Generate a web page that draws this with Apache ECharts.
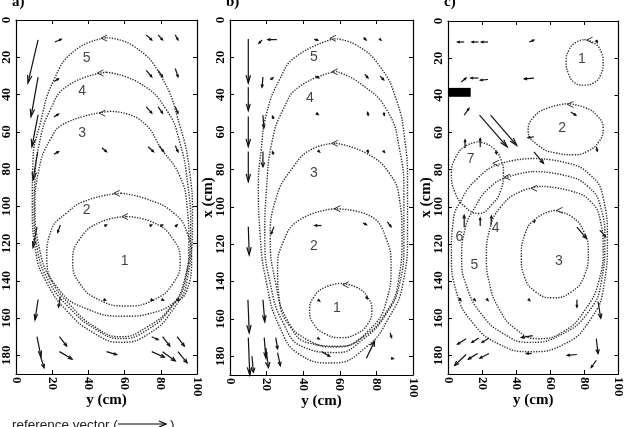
<!DOCTYPE html>
<html>
<head>
<meta charset="utf-8">
<title>flow fields a b c</title>
<script src="https://cdn.jsdelivr.net/npm/echarts/dist/echarts.min.js"></script>
<style>
  html, body { margin: 0; padding: 0; background: #fff; }
  #chart { width: 625px; height: 427px; }
</style>
</head>
<body>
<div id="chart"></div>
<script>
// all points are [y (cm), x (cm)] : y horizontal, x vertical (down)

// ---- panel a ----
const loopsA = [
  [[61,105.5],[75.9,108.7],[86.7,117.5],[90.7,129.5],[86.7,141.5],[75.9,150.3],[61,153.5],[46.1,150.3],[35.3,141.5],[31.3,129.5],[35.3,117.5],[46.1,108.7],[61,105.5]],
  [[58,93],[72,96],[87,103.5],[94.5,114],[97,128],[94.5,145],[87,152],[76,157],[60,159],[39,155],[24,145],[17,128],[19,114],[28,103.5],[40,96.5],[58,93]],
  [[52,49],[68.5,53.6],[81,70],[90.6,84],[94.5,100],[95.5,120],[93,140],[85.5,154],[72,165],[58,170],[44,165],[30,153],[19,139],[13,123],[10.5,100],[12.3,82],[19,64],[28,55],[52,49]],
  [[50,28],[68.5,34],[83,48],[90.6,66],[95,89],[96.5,110],[93.5,140],[86,154],[73,166],[58,171],[44,166],[29,154],[18,140],[12,124],[10,102],[10.5,85],[12.5,68],[19,48],[29,35],[50,28]],
  [[50,9.5],[65,14],[80,30],[90.6,57],[96,82],[97.5,105],[94.5,140],[87,155],[74,168],[58,173],[43,168],[28,156],[17,141],[11,125],[9,100],[9.4,75],[13,57],[21,32],[33,16],[50,9.5]]
];
const headsA = [[47,9.7],[45,28.4],[46,50],[54,93],[58.5,105.5]];
const labelsA = [[60,129.5,'1'],[39,102,'2'],[36.5,60.7,'3'],[36.5,38.4,'4'],[39,20.4,'5']];
// vectors: [y0, x0, y1, x1], head at the end
const vecsA = [
  [12.2,10.7,6.6,33.8],[12.2,30.7,8.3,51.9],[12.2,50.9,8.8,68],[12,70.7,9.4,85.8],
  [11.6,111,9.4,122],[12.2,150,10.5,161],[11.6,170,13.8,180.7],[13.2,179.6,15.5,186.6],
  [21.5,11.8,25,10.3],[72,8,75,10.7],[78.5,8,81,10.7],[88,8,89.5,10.7],
  [21,33,23.5,31.5],[72,27,75,30.5],[78.5,27,81,30.5],[88,26,89.5,30.5],
  [21,52,23.5,50.5],[72,46.6,75,50],[78.5,46.6,81,50],[88,46.6,89.5,50],
  [21,72,23.5,70.7],[47.5,68.6,50,70.7],[73,68,76,70.7],[79,67.5,81.6,70.7],[88,67.5,89.5,70.7],
  [24.5,110,23,114],[49,110.5,50,110],[74,110.5,75,110],[80,110.5,81,110],[88,111,89,110],
  [24.5,148.5,23.5,154],[48.5,150,49.5,150.5],[74.5,150,75.5,150.5],[80.5,150,81.5,150.5],[89,150,90,150.5],
  [24,170,28,175],[75,170,78.5,171.6],[81,170,85,175],[89,170,93,175],
  [24,178,31,182],[50,178,55.6,179.6],[75,178,82,181],[81,178,88,183],[89.5,178,94.5,184]
];

// ---- panel b ----
const loopsB = [
  [[60.5,141],[69,143],[75.2,148.3],[77.5,155.5],[75.2,162.8],[69,168],[60.5,170],[52,168],[45.8,162.8],[43.5,155.5],[45.8,148.3],[52,143],[60.5,141]],
  [[57,101],[74.6,104],[85.6,117.6],[88,132],[85.6,150],[76,166],[60,174.6],[43.6,173],[32.7,164],[27,150],[26,134],[29,119],[38,107],[57,101]],
  [[58,66],[74.6,71.4],[87,82],[92.7,96.5],[94,115],[92,140],[85,157],[72,170],[58,175],[42,171],[31,160],[25,141],[22,117],[25,96],[34.6,78.6],[45,69],[58,66]],
  [[58,27.5],[71,33.8],[85.6,48],[92.7,69.5],[95,93],[95,120],[92.7,141],[85.6,157],[72.6,171],[58,178],[40,175],[29,162],[22,141],[19,117],[20,90],[23,65],[29,48],[38,35.6],[58,27.5]],
  [[57,10],[69,13.4],[82,25],[91,43],[95.5,64],[97,87],[97,114],[94.5,141],[87,159],[74.5,175],[56,183.6],[38,179],[27,164],[20,141],[16.4,114],[15.5,89],[17,70],[20,50],[27,32],[36,19.6],[57,10]]
];
const headsB = [[54.6,9.8],[55.6,27.7],[55.6,66],[57,101],[61.6,141.7]];
const labelsB = [[58.4,154,'1'],[45.8,121,'2'],[45.8,82,'3'],[43.6,42,'4'],[45.8,19.7,'5']];
const vecsB = [
  [10,10.2,10,33.7],[10,36,10,48.5],[10,51.7,10,67.7],[10,70.4,10,86.5],
  [10,110.7,10.5,125.7],[9.8,149.7,10.5,167.4],[10,170,10.8,190],[12,180,12.8,188.5],
  [18,149.7,19,161.5],[18.7,170,19.6,181],[19.6,175.5,21,186],[25,170,26,176],[26,178,27.5,185],
  [17.5,10.7,15.8,12.5],[25.6,10.5,20.7,10.5],[46,10.3,48,10.8],[73,9.3,74.3,10.7],[82,10.3,82.5,10.8],
  [18,30.5,17.5,36],[22,32,23.5,31],[46.5,30,48.5,31],[73.6,29,75.4,31],[82,30,84,32],
  [18,51,18.5,57.8],[23.8,53,23.2,51.5],[47,49.8,48.2,50.6],[75.6,51.5,75.2,49.5],[84,49.5,84.3,51],
  [18,70.4,18,78.5],[23.8,72,23.2,70.5],[48,69.8,49,70.6],[75,69.5,75.5,70.8],[84,70.3,84.5,70.8],
  [24,110.7,22.5,114.5],[50,110,46.4,110],[72.6,108.5,74.6,109.6],[86,108,88,110.7],
  [48.2,149.8,49,150.4],[74.5,148,75,149.2],
  [50,177.5,54.5,180],[48,170.3,48.8,170.7],[74.5,181,79,172],[87.5,167.5,88.3,170],[88,181,89.3,181.3]
];

// ---- panel c ----
const loopsC = [
  [[80,10],[86,12],[90,17],[91,22],[89.5,29],[85,33.5],[79.5,34.5],[74,33],[70.5,28],[69.3,22],[71,15.5],[75,11.5],[80,10]],
  [[70,44.5],[80,46.5],[87.5,51],[91,58],[88.5,65],[82,70],[74,72],[63,71],[53,67],[47,59],[50,52],[58,47],[70,44.5]],
  [[62,102],[72,105],[79.5,113],[82.3,125],[80,137],[72,146],[61,149],[51,145.5],[45,138],[43,127],[45,115],[52,106],[62,102]],
  [[55,89],[72,91.5],[83.5,97],[89.5,108],[91,122],[88.5,140],[80,156],[68,167],[53,171],[40,166],[30,155],[24,140],[22.5,127],[24.5,112],[31,100],[42,92],[55,89]],
  [[50,81],[68,83],[82,89],[89.5,100],[92,118],[90,140],[82,157],[66,169],[48,173],[32,168],[19,157],[11,143],[8,128],[10,112],[16,100],[24,90],[35,84],[50,81]],
  [[50,74],[68,76],[83,82.5],[91,95],[93.5,118],[91.5,142],[84,160],[68,174],[48,178],[30,174],[15,163],[5,146],[2,125],[3,108],[8,96],[17,85],[30,77],[50,74]],
  [[18,65],[26,68],[31,74.5],[32.5,82],[31,91],[25.5,99],[18,103.6],[10,100],[4,92],[2,82],[4.5,73.5],[10,67.5],[18,65]]
];
const headsC = [[81.3,10.3],[70,44.9],[26.3,76.6],[33,84],[48.7,90],[63.7,101.9]];
const labelsC = [[78.5,20.5,'1'],[67,57.6,'2'],[65,129.4,'3'],[28,111.6,'4'],[15.5,131.5,'5'],[6.7,116.3,'6'],[13.3,74.6,'7']];
const vecsC = [
  [9.5,11.3,5.6,11.3],[17.9,11.3,14,11.3],[23.5,11.3,19.6,11.3],[47.6,11.3,50.4,10.3],[86.8,10.3,87.6,11.5],
  [7.8,32.8,10.6,30.7],[17.9,30.7,13.4,30.7],[23.5,31.5,19,31.8],[50.4,30.7,44.8,31.2],
  [9.5,50.7,12.3,47],[18.5,50.7,34.7,67.8],[25,50.7,40.3,66.9],[50.4,70.5,56,76.6],[50.4,62.3,46.9,62.8],[72,49,75,50.7],
  [10,68.5,10,64],[18.9,67.8,18.9,63.2],[28,70,28.5,71.5],[87,67.8,87.6,70],
  [9.5,111,9.5,104.6],[18.9,110.4,18.9,106],[25.2,110,25.5,105],[50.4,108,51,107.5],[75.6,111,81.2,117],[89,112.6,92.4,116],
  [6.5,149,7.5,150.5],[15,149.5,16,150.5],[22.5,149.5,23.5,150.5],[47.2,149.8,48,150.5],[75.6,150,75.6,154],[88,151,89.6,160],
  [10.6,171,5.6,174],[18,170.6,14,173],[24,170.6,20,173],[49.7,169.3,43,170.4],[87,171,88,179],
  [10.6,179.5,3.9,185.4],[17.4,179,11.9,182],[24,179,18.7,181.5],[49,179,46,179],[75.6,179.5,70,180],[87,182.6,84,186.5]
];
// black block on the left wall: [y0, x0, y1, x1]
const blockC = [[0,36,13.3,40.8]];

const serif = '"Liberation Serif", "DejaVu Serif", serif';
const sans = '"Liberation Sans", Arial, sans-serif';

const panels = [
  { tag: 'a)', grid: { left: 16, top: 20, width: 181, height: 354 }, loops: loopsA, heads: headsA, labels: labelsA, vecs: vecsA, yName: '' },
  { tag: 'b)', grid: { left: 230, top: 20, width: 183, height: 355 }, loops: loopsB, heads: headsB, labels: labelsB, vecs: vecsB, yName: 'x (cm)' },
  { tag: 'c)', grid: { left: 448, top: 21, width: 179, height: 353 }, loops: loopsC, heads: headsC, labels: labelsC, vecs: vecsC, yName: 'x (cm)' }
];

// arrow from (y0,x0) to (y1,x1)
function renderVector(params, api) {
  const p0 = api.coord([api.value(0), api.value(1)]);
  const p1 = api.coord([api.value(2), api.value(3)]);
  const dx = p1[0] - p0[0], dy = p1[1] - p0[1];
  const len = Math.sqrt(dx * dx + dy * dy);
  const h = Math.min(8, Math.max(2.5, len * 0.3));
  const ang = Math.atan2(dy, dx);
  const w = len > 20 ? 0.28 : 0.4;
  const a1 = ang + Math.PI - w, a2 = ang + Math.PI + w;
  return {
    type: 'group',
    children: [
      { type: 'line', shape: { x1: p0[0], y1: p0[1], x2: p1[0], y2: p1[1] }, style: { stroke: '#111', lineWidth: 1.2 } },
      { type: 'polyline', shape: { points: [[p1[0] + h * Math.cos(a1), p1[1] + h * Math.sin(a1)], p1, [p1[0] + h * Math.cos(a2), p1[1] + h * Math.sin(a2)]] },
        style: { stroke: '#111', lineWidth: 1.2, fill: null } }
    ]
  };
}

// small "<" on top of each loop
function renderHead(params, api) {
  const p = api.coord([api.value(0), api.value(1)]);
  return {
    type: 'polyline',
    shape: { points: [[p[0] + 6, p[1] - 3], p, [p[0] + 6, p[1] + 3]] },
    style: { stroke: '#333', lineWidth: 1, fill: null }
  };
}

function renderBlock(params, api) {
  const a = api.coord([api.value(0), api.value(1)]);
  const b = api.coord([api.value(2), api.value(3)]);
  return {
    type: 'rect',
    shape: { x: a[0], y: a[1], width: b[0] - a[0], height: b[1] - a[1] },
    style: { fill: '#000' }
  };
}

const grids = [], xAxes = [], yAxes = [], series = [], titles = [];
const tickStyle = { inside: true, length: 4, lineStyle: { color: '#000', width: 1 } };
const lineStyle = { onZero: false, lineStyle: { color: '#000', width: 1.2 } };

panels.forEach((p, i) => {
  grids.push(p.grid);
  titles.push({ text: p.tag, left: p.grid.left - 4, top: -5, padding: 0,
    textStyle: { fontFamily: serif, fontWeight: 'bold', fontSize: 15, color: '#000' } });

  xAxes.push({
    gridIndex: i, type: 'value', min: 0, max: 100, interval: 20, position: 'bottom',
    axisLine: lineStyle, axisTick: tickStyle, splitLine: { show: false },
    axisLabel: { rotate: -90, margin: 3, fontFamily: serif, fontWeight: 'bold', fontSize: 13, color: '#000' },
    name: 'y (cm)', nameLocation: 'middle', nameGap: 19, nameMoveOverlap: false,
    nameTextStyle: { fontFamily: serif, fontWeight: 'bold', fontSize: 15, color: '#000' }
  });
  xAxes.push({
    gridIndex: i, type: 'value', min: 0, max: 100, interval: 20, position: 'top',
    axisLine: lineStyle, axisTick: tickStyle, axisLabel: { show: false }, splitLine: { show: false }
  });
  yAxes.push({
    gridIndex: i, type: 'value', min: 0, max: 190, interval: 20, inverse: true, position: 'left',
    axisLine: lineStyle, axisTick: tickStyle, splitLine: { show: false },
    axisLabel: { rotate: 90, margin: 3, fontFamily: serif, fontWeight: 'bold', fontSize: 13, color: '#000',
      formatter: v => (v % 20 === 0 ? String(v) : '') },
    name: p.yName, nameLocation: 'middle', nameGap: 14, nameRotate: 90, nameMoveOverlap: false,
    nameTextStyle: { fontFamily: serif, fontWeight: 'bold', fontSize: 15, color: '#000' }
  });
  yAxes.push({
    gridIndex: i, type: 'value', min: 0, max: 190, interval: 20, inverse: true, position: 'right',
    axisLine: lineStyle, axisTick: tickStyle, axisLabel: { show: false }, splitLine: { show: false }
  });

  const ax = { xAxisIndex: 2 * i, yAxisIndex: 2 * i };
  p.loops.forEach(pts => {
    series.push(Object.assign({
      type: 'line', data: pts, smooth: 0.5, symbol: 'none', silent: true,
      lineStyle: { color: '#2a2a2a', width: 1.4, type: [1.3, 1.4] }
    }, ax));
  });
  series.push(Object.assign({ type: 'custom', data: p.vecs, renderItem: renderVector, encode: { x: [0, 2], y: [1, 3] }, silent: true }, ax));
  series.push(Object.assign({ type: 'custom', data: p.heads, renderItem: renderHead, encode: { x: 0, y: 1 }, silent: true }, ax));
  series.push(Object.assign({
    type: 'scatter', data: p.labels, symbolSize: 1, itemStyle: { color: 'transparent' }, silent: true,
    label: { show: true, position: 'inside', formatter: d => d.value[2], fontFamily: sans, fontSize: 14, color: '#111' }
  }, ax));
});

// the block in panel c
series.push({ type: 'custom', xAxisIndex: 4, yAxisIndex: 4, data: blockC, renderItem: renderBlock, encode: { x: [0, 2], y: [1, 3] }, silent: true });

const chart = echarts.init(document.getElementById('chart'), null, { renderer: 'canvas' });
chart.setOption({
  animation: false,
  backgroundColor: '#fff',
  title: titles,
  grid: grids,
  xAxis: xAxes,
  yAxis: yAxes,
  series: series,
  graphic: [
    { type: 'text', left: 12, top: 418, style: { text: 'reference vector (', font: '13.5px ' + sans, fill: '#222' } },
    { type: 'line', shape: { x1: 118, y1: 424, x2: 166, y2: 424 }, style: { stroke: '#000', lineWidth: 1.2 } },
    { type: 'polyline', shape: { points: [[159, 421], [166, 424], [159, 427]] }, style: { stroke: '#000', lineWidth: 1.2, fill: null } },
    { type: 'text', left: 170, top: 418, style: { text: ')', font: '13.5px ' + sans, fill: '#222' } }
  ]
});
</script>
</body>
</html>
